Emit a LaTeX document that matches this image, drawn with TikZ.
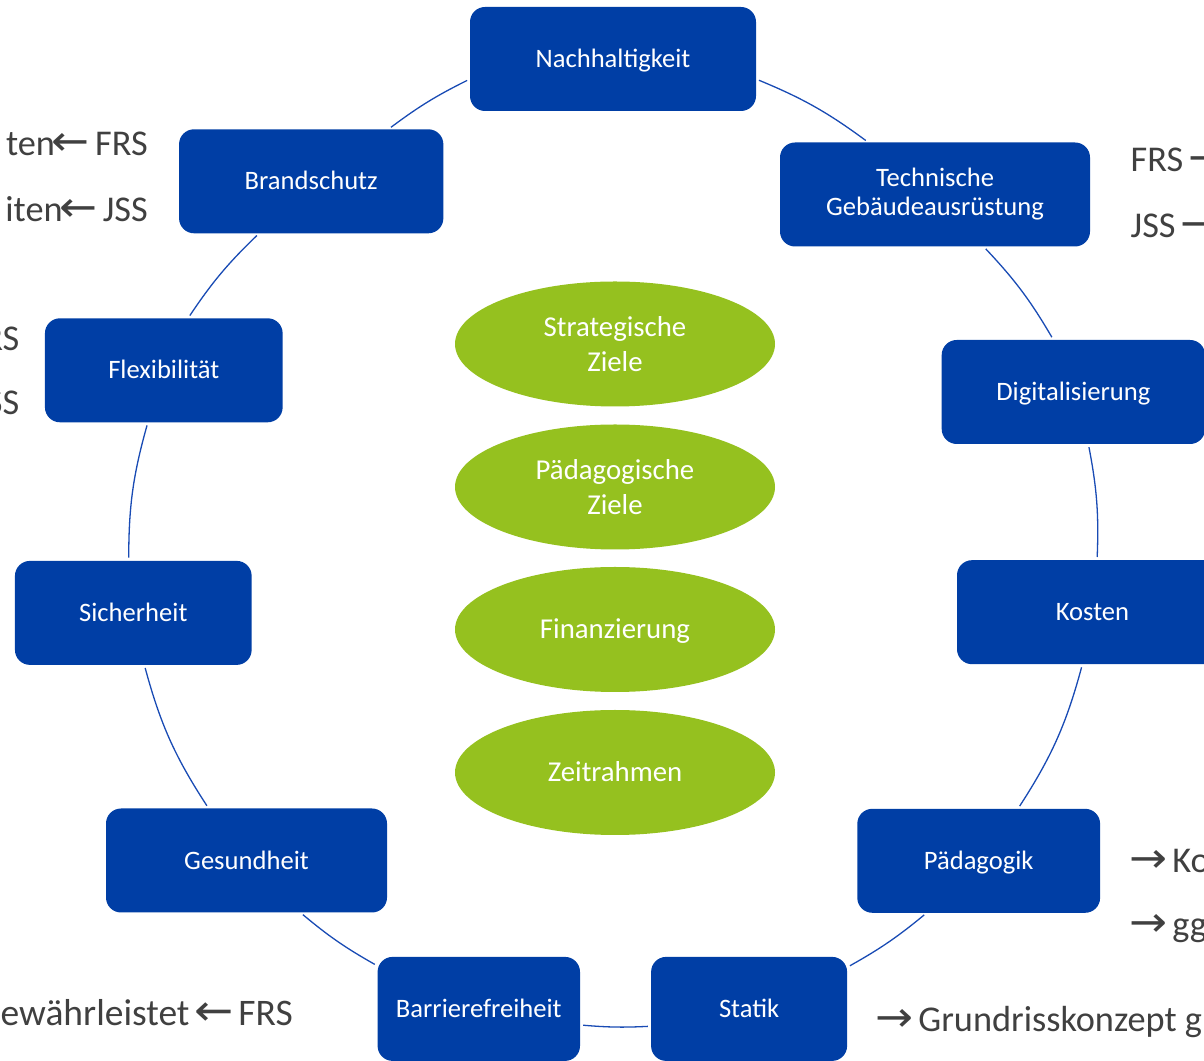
\documentclass[tikz,border=0pt]{standalone}
\usepackage{graphicx}
\usepackage{fontspec}
\setmainfont{Carlito}
\newfontfamily\arrowfont{DejaVu Sans}
\newcommand{\myra}{\makebox[32pt][c]{\arrowfont\scalebox{1.25}[1.15]{→}}}
\newcommand{\myla}{\makebox[32pt][c]{\arrowfont\scalebox{1.25}[1.15]{←}}}
\usetikzlibrary{shapes.geometric}
\definecolor{boxblue}{RGB}{0,62,165}
\definecolor{linkblue}{RGB}{25,75,180}
\definecolor{ellgreen}{RGB}{149,193,31}
\definecolor{sidegray}{RGB}{64,64,64}
\begin{document}
\begin{tikzpicture}[x=1pt,y=1pt,
  topic/.style={draw=none, fill=boxblue, rounded corners=15pt, text=white,
    minimum height=104pt, inner sep=0pt, align=center,
    font=\fontsize{26.6}{29}\selectfont},
  oneline/.style={text height=17.1pt, text depth=0pt},
  goal/.style={ellipse, draw=none, fill=ellgreen, text=white, minimum width=320pt,
    minimum height=125pt, inner sep=0pt, align=center,
    font=\fontsize{28.8}{34.4}\selectfont},
  onegoal/.style={text height=18.5pt, text depth=0pt},
  note/.style={text=sidegray, inner sep=0pt, font=\fontsize{36.3}{42}\selectfont},
  link/.style={draw=linkblue, line width=1.3pt, shorten <=3pt, shorten >=3pt}
]
\useasboundingbox (0,0) rectangle (1204,1060);
\clip (0,0) rectangle (1204,1060);

% topics on the circle
\node[topic, oneline, minimum width=286pt]   (nach)  at (613,1001)    {Nachhaltigkeit};
\node[topic, minimum width=310pt]            (tech)  at (935,865.5)   {Technische\\Gebäudeausrüstung};
\node[topic, oneline, minimum width=263.4pt] (digi)  at (1073.4,668)  {Digitalisierung};
\node[topic, oneline, minimum width=271pt]   (kost)  at (1092.5,447.8){Kosten};
\node[topic, oneline, minimum width=242.8pt] (paed)  at (978.7,199.2) {Pädagogik};
\node[topic, oneline, minimum width=196pt]   (stat)  at (749.1,51.1)  {Statik};
\node[topic, oneline, minimum width=202.4pt] (barr)  at (478.8,51.1)  {Barrierefreiheit};
\node[topic, oneline, minimum width=281pt]   (gesu)  at (246.5,199.5) {Gesundheit};
\node[topic, oneline, minimum width=236.7pt] (sich)  at (133.3,447.1) {Sicherheit};
\node[topic, oneline, minimum width=237.7pt] (flex)  at (163.8,689.7) {Flexibilität};
\node[topic, oneline, minimum width=264.3pt] (brand) at (311.2,878.7) {Brandschutz};

% goals in the middle
\node[goal]          (strat) at (615,716)   {Strategische\\Ziele};
\node[goal]          (paedz) at (615,573)   {Pädagogische\\Ziele};
\node[goal, onegoal] (fin)   at (615,430.5) {Finanzierung};
\node[goal, onegoal] (zeit)  at (615,287.5) {Zeitrahmen};

% circle connectors
\draw[link] (nach.-8.6)    to[bend left=7]    (tech.142.5);
\draw[link] (tech.-47.2)   to[bend left=6.5]  (digi.111.4);
\draw[link] (digi.-74.8)   to[bend left=6.6]  (kost.85);
\draw[link] (kost.-101.6)  to[bend left=8.9]  (paed.53.1);
\draw[link] (paed.-135.3)  to[bend left=5.2]  (stat.23);
\draw[link] (stat.190.05)  to[bend left=3.9]  (barr.-9.7);
\draw[link] (barr.157.35)  to[bend left=5.25] (gesu.-44.5);
\draw[link] (gesu.126.7)   to[bend left=9]    (sich.-78.6);
\draw[link] (sich.95.1)    to[bend left=7.85] (flex.-107.7);
\draw[link] (flex.65.2)    to[bend left=6.15] (brand.-135.4);
\draw[link] (brand.34.1)   to[bend left=5.25] (nach.188.6);

% side notes (cut by the picture edge)
\node[note, anchor=base east] (n1)  at (148,904.3)    {ten\myla{} FRS};
\node[note, anchor=base east] (n2)  at (148,838.3)    {iten\myla{} JSS};
\node[note, anchor=base east] (n3)  at (19.5,709)     {RS};
\node[note, anchor=base east] (n4)  at (19.5,645)     {SS};
\node[note, anchor=base west] (n5)  at (1130.5,888.3) {FRS \myra};
\node[note, anchor=base west] (n6)  at (1130.5,822.7) {JSS \myra};
\node[note, anchor=base west] (n7)  at (1132,187.3)   {\myra{} Ko};
\node[note, anchor=base west] (n8)  at (1132,124)     {\myra{} gg};
\node[note, anchor=base west] (n9)  at (878,28.3)     {\myra{} Grundrisskonzept g};
\node[note, anchor=base east, font=\fontsize{37.5}{42}\selectfont] (n10) at (293,35) {ewährleistet \myla{} FRS};
\end{tikzpicture}
\end{document}
